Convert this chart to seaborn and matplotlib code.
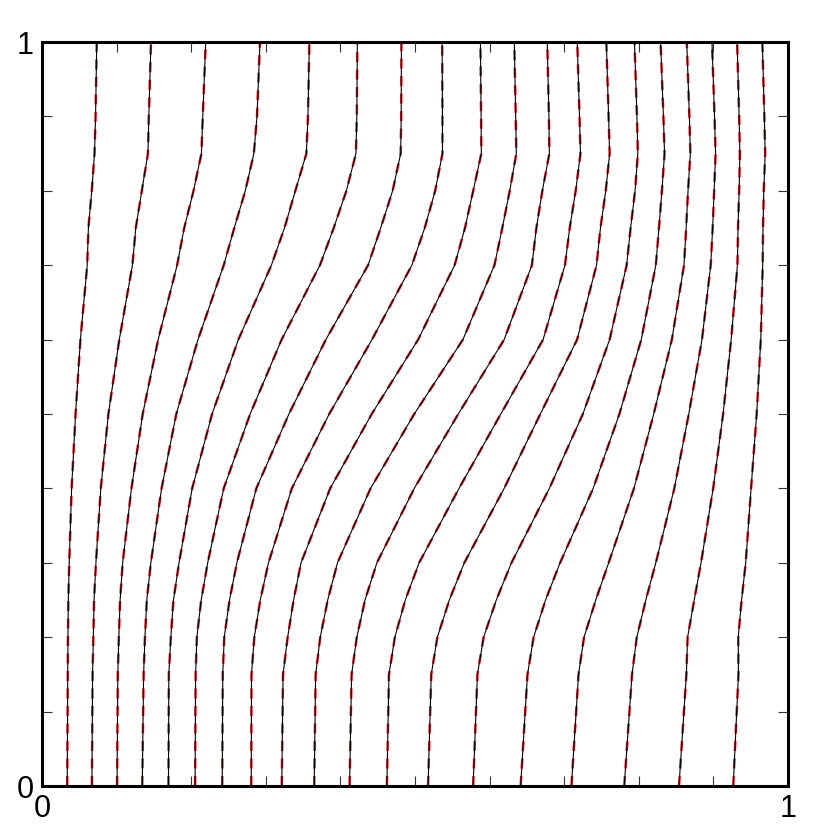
import numpy as np
import pandas as pd
import matplotlib.pyplot as plt
import seaborn as sns

y_levels = [0.0, 0.15, 0.2, 0.25, 0.3, 0.4, 0.5, 0.6, 0.7, 0.75, 0.8, 0.85, 0.9, 1.0]

# x position of each of the 19 curves at every height
x_y000 = [0.0338, 0.0669, 0.1006, 0.1344, 0.1695, 0.2052, 0.2416, 0.2805, 0.3214, 0.3649,
          0.4123, 0.4623, 0.5175, 0.5779, 0.6416, 0.7097, 0.7805, 0.8539, 0.9266]
x_y015 = [0.0345, 0.0678, 0.1016, 0.1362, 0.1700, 0.2059, 0.2423, 0.2808, 0.3231, 0.3668,
          0.4150, 0.4651, 0.5218, 0.5837, 0.6508, 0.7192, 0.7909, 0.8638, 0.9336]
x_y020 = [0.0348, 0.0688, 0.1030, 0.1380, 0.1727, 0.2076, 0.2443, 0.2846, 0.3293, 0.3730,
          0.4220, 0.4730, 0.5300, 0.5920, 0.6590, 0.7266, 0.7973, 0.8654, 0.9333]
x_y025 = [0.0353, 0.0698, 0.1047, 0.1405, 0.1762, 0.2134, 0.2514, 0.2926, 0.3373, 0.3830,
          0.4330, 0.4870, 0.5460, 0.6090, 0.6750, 0.7423, 0.8094, 0.8743, 0.9378]
x_y030 = [0.0365, 0.0723, 0.1081, 0.1459, 0.1837, 0.2221, 0.2612, 0.3036, 0.3472, 0.3961,
          0.4489, 0.5055, 0.5661, 0.6293, 0.6945, 0.7596, 0.8228, 0.8834, 0.9433]
x_y040 = [0.0397, 0.0788, 0.1199, 0.1603, 0.2013, 0.2436, 0.2873, 0.3349, 0.3863, 0.4404,
          0.4990, 0.5590, 0.6195, 0.6801, 0.7388, 0.7935, 0.8476, 0.8997, 0.9505]
x_y050 = [0.0450, 0.0890, 0.1350, 0.1800, 0.2280, 0.2790, 0.3310, 0.3850, 0.4420, 0.4990,
          0.5580, 0.6150, 0.6680, 0.7250, 0.7740, 0.8200, 0.8670, 0.9130, 0.9580]
x_y060 = [0.0515, 0.1036, 0.1557, 0.2091, 0.2632, 0.3212, 0.3805, 0.4423, 0.5042, 0.5642,
          0.6195, 0.6717, 0.7173, 0.7609, 0.8033, 0.8443, 0.8847, 0.9238, 0.9635]
x_y070 = [0.0606, 0.1212, 0.1811, 0.2436, 0.3075, 0.3726, 0.4371, 0.4958, 0.5531, 0.6065,
          0.6567, 0.7010, 0.7433, 0.7837, 0.8228, 0.8606, 0.8964, 0.9322, 0.9661]
x_y075 = [0.0622, 0.1257, 0.1906, 0.2577, 0.3250, 0.3910, 0.4540, 0.5130, 0.5670, 0.6170,
          0.6627, 0.7074, 0.7486, 0.7890, 0.8270, 0.8635, 0.8990, 0.9330, 0.9665]
x_y080 = [0.0667, 0.1338, 0.2031, 0.2725, 0.3396, 0.4080, 0.4700, 0.5270, 0.5780, 0.6270,
          0.6707, 0.7154, 0.7557, 0.7950, 0.8310, 0.8660, 0.9010, 0.9345, 0.9675]
x_y085 = [0.0704, 0.1420, 0.2137, 0.2840, 0.3544, 0.4208, 0.4808, 0.5368, 0.5889, 0.6358,
          0.6801, 0.7218, 0.7609, 0.7987, 0.8345, 0.8691, 0.9029, 0.9355, 0.9694]
x_y090 = [0.0718, 0.1432, 0.2155, 0.2882, 0.3565, 0.4220, 0.4815, 0.5368, 0.5886, 0.6350,
          0.6795, 0.7205, 0.7595, 0.7975, 0.8330, 0.8678, 0.9015, 0.9345, 0.9683]
x_y100 = [0.0734, 0.1461, 0.2195, 0.2922, 0.3584, 0.4227, 0.4818, 0.5364, 0.5877, 0.6331,
          0.6773, 0.7175, 0.7565, 0.7942, 0.8292, 0.8643, 0.8981, 0.9318, 0.9656]

x_rows = [x_y000, x_y015, x_y020, x_y025, x_y030, x_y040, x_y050,
          x_y060, x_y070, x_y075, x_y080, x_y085, x_y090, x_y100]


def build_frame():
    recs = []
    for y, xs in zip(y_levels, x_rows):
        for i, x in enumerate(xs):
            recs.append((i, x, y))
    return pd.DataFrame(recs, columns=["curve", "x", "y"])


def main():
    df = build_frame()

    sns.set_style("ticks")
    plt.rcParams["font.family"] = ["Liberation Sans", "DejaVu Sans"]

    fig = plt.figure(figsize=(8.3, 8.3), dpi=100)
    ax = fig.add_axes([42 / 830, 44 / 830, 746 / 830, 744 / 830])

    # reference solution (red dashes) under the computed one (black)
    sns.lineplot(data=df, x="x", y="y", units="curve", estimator=None, orient="y",
                 color="#e0202a", lw=1.8, ls=(0, (4, 3)), ax=ax, legend=False)
    sns.lineplot(data=df, x="x", y="y", units="curve", estimator=None, orient="y",
                 color="black", lw=0.8, ax=ax, legend=False)

    ax.set_xlim(0, 1)
    ax.set_ylim(0, 1)
    ax.set_xlabel("")
    ax.set_ylabel("")
    ax.set_xticks([0, 1], ["0", "1"])
    ax.set_yticks([0, 1], ["0", "1"])
    ax.set_xticks(np.arange(1, 10) / 10, minor=True)
    ax.set_yticks(np.arange(1, 10) / 10, minor=True)
    ax.tick_params(which="both", direction="in", top=True, right=True,
                   length=7, width=0.8, color="#333333")
    ax.tick_params(which="major", labelsize=22, pad=6, labelcolor="black")
    for sp in ax.spines.values():
        sp.set_linewidth(2.2)
        sp.set_color("black")

    fig.savefig("out.png", dpi=100)
    plt.close(fig)


if __name__ == "__main__":
    main()
